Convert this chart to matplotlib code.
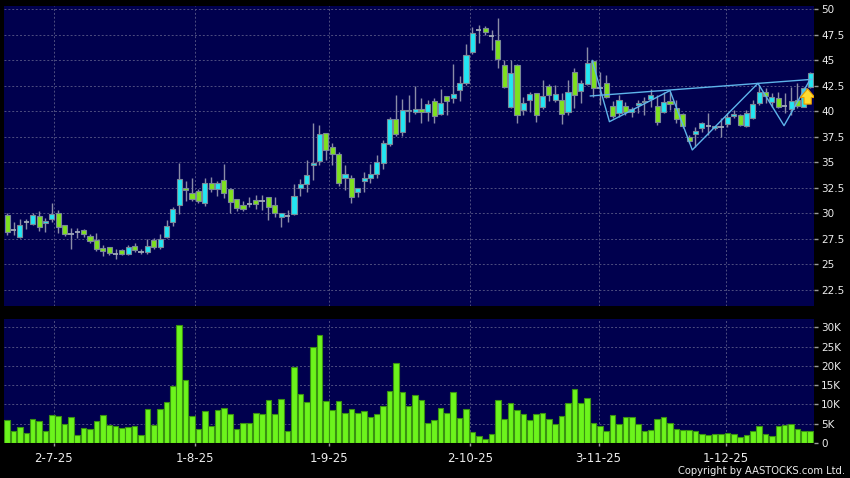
import numpy as np
import matplotlib
matplotlib.use('Agg')
import matplotlib.pyplot as plt
from matplotlib.patches import FancyArrowPatch

# dati (OHLC giornalieri e volumi in migliaia)

opens = [29.86, 28.4, 27.73, 29.17, 29.0, 29.79, 29.04, 29.5, 30.02, 28.84,
         28.03, 28.22, 28.42, 27.77, 27.41, 26.62, 26.75, 26.07, 26.39, 26.0,
         26.79, 26.23, 26.2, 27.37, 26.69, 27.73, 29.2, 30.84, 32.45, 31.98,
         32.24, 31.0, 32.96, 32.37, 33.25, 32.44, 31.39, 30.8, 30.92, 31.29,
         31.27, 31.59, 30.8, 29.63, 29.75, 29.92, 32.47, 32.86, 34.73, 35.18,
         37.86, 36.55, 35.8, 33.45, 33.45, 32.07, 33.2, 33.5, 33.84, 34.92,
         36.78, 39.23, 37.96, 40.0, 39.98, 40.21, 39.92, 41.06, 39.79, 41.48,
         41.29, 42.1, 42.83, 45.8, 47.99, 48.22, 47.38, 47.01, 44.56, 40.41,
         44.56, 40.15, 41.09, 41.78, 40.41, 42.47, 41.09, 41.13, 39.92, 43.9,
         42.01, 42.7, 44.98, 42.34, 42.76, 40.57, 39.82, 40.57, 39.92, 40.64,
         40.9, 41.19, 40.54, 39.98, 41.03, 40.38, 39.72, 37.47, 37.8, 38.42,
         38.55, 38.42, 38.45, 38.77, 39.56, 39.69, 38.58, 39.4, 40.8, 41.88,
         40.96, 41.29, 40.54, 40.21, 41.13, 40.47, 42.43]
highs = [30.0, 29.2, 29.5, 29.5, 30.0, 30.28, 29.53, 31.07, 30.35, 28.9,
         28.55, 28.55, 28.45, 27.95, 28.06, 26.9, 26.75, 26.49, 26.5, 26.9,
         27.1, 26.55, 27.47, 27.6, 27.96, 29.37, 30.67, 34.92, 33.2, 33.45,
         32.4, 33.45, 33.6, 33.2, 34.86, 32.45, 31.45, 31.2, 31.6, 31.8,
         31.8, 31.6, 31.6, 30.05, 30.35, 32.86, 33.4, 35.25, 38.84, 38.68,
         37.9, 36.9, 36.05, 34.75, 33.8, 32.5, 34.1, 34.85, 35.75, 37.2,
         39.5, 41.6, 41.2, 41.6, 42.5, 41.3, 41.13, 41.3, 42.2, 41.5,
         44.66, 43.5, 46.6, 48.3, 48.48, 48.35, 47.99, 49.13, 45.0, 45.05,
         44.7, 41.45, 41.95, 41.85, 43.1, 42.68, 42.6, 41.78, 43.1, 44.23,
         43.1, 46.29, 45.05, 43.9, 43.58, 41.03, 41.6, 40.96, 40.47, 41.13,
         41.45, 42.17, 41.62, 41.95, 41.95, 41.13, 39.82, 37.7, 38.5, 39.0,
         39.82, 38.6, 39.33, 39.82, 40.15, 39.75, 40.15, 41.13, 42.6, 42.27,
         41.78, 41.95, 41.78, 42.43, 42.76, 42.43, 43.9]
lows = [27.9, 27.9, 27.57, 28.5, 28.9, 28.29, 28.22, 29.2, 28.06, 27.8,
        26.49, 27.57, 27.67, 27.15, 26.36, 25.85, 25.9, 25.58, 25.95, 25.95,
        26.25, 26.03, 26.03, 26.55, 26.55, 27.6, 28.78, 29.95, 31.2, 31.2,
        31.0, 30.7, 32.15, 31.72, 31.5, 30.08, 30.2, 30.2, 30.65, 30.4,
        30.35, 29.37, 29.7, 28.65, 29.2, 29.9, 31.7, 32.15, 33.3, 34.8,
        35.25, 34.75, 32.73, 32.3, 31.0, 31.65, 32.15, 32.95, 33.45, 34.4,
        36.65, 37.55, 37.55, 39.0, 39.8, 38.9, 39.07, 38.9, 39.65, 39.65,
        40.8, 41.03, 42.6, 45.6, 46.68, 47.5, 46.03, 44.23, 42.3, 40.3,
        38.84, 39.66, 39.98, 39.0, 40.2, 41.03, 40.88, 38.74, 39.66, 40.38,
        40.8, 42.6, 41.45, 40.64, 41.3, 39.33, 39.5, 39.66, 39.5, 39.82,
        39.66, 40.48, 38.68, 39.82, 40.15, 38.84, 38.35, 36.88, 36.55, 38.03,
        37.7, 38.2, 37.47, 38.52, 39.33, 38.58, 38.52, 39.23, 40.64, 40.8,
        40.48, 40.31, 39.82, 39.66, 40.38, 40.47, 42.27]
closes = [28.22, 28.4, 28.84, 29.17, 29.83, 28.71, 29.27, 29.96, 28.65, 27.96,
          28.03, 28.22, 28.0, 27.34, 26.56, 26.36, 26.1, 26.07, 26.07, 26.75,
          26.46, 26.23, 26.85, 26.69, 27.47, 28.75, 30.41, 33.35, 32.35, 31.42,
          31.2, 32.96, 32.37, 32.96, 31.98, 31.1, 30.58, 30.41, 30.92, 30.93,
          31.27, 30.61, 30.08, 30.02, 29.75, 31.75, 32.86, 33.75, 34.92, 37.8,
          36.19, 35.8, 32.96, 33.84, 31.65, 32.47, 33.45, 33.84, 35.0, 36.88,
          39.23, 37.8, 40.15, 40.15, 40.21, 39.9, 40.7, 39.56, 40.8, 41.06,
          41.68, 42.8, 45.54, 47.66, 47.99, 47.76, 47.38, 45.11, 42.43, 43.74,
          39.66, 40.87, 41.72, 39.66, 41.55, 41.6, 41.68, 39.75, 41.94, 41.6,
          42.83, 44.79, 42.34, 42.34, 41.45, 39.56, 41.13, 39.92, 40.25, 40.8,
          41.03, 41.62, 39.0, 40.93, 40.7, 39.23, 38.58, 37.14, 38.09, 38.84,
          38.55, 38.58, 38.45, 39.5, 39.76, 38.71, 39.82, 40.7, 41.95, 41.52,
          41.45, 40.47, 40.54, 41.06, 40.54, 42.27, 43.74]
volume_k = [5.9, 3.0, 4.1, 2.5, 6.2, 5.6, 3.0, 7.2, 7.0, 5.0,
            6.8, 2.1, 3.8, 3.7, 5.6, 7.2, 4.7, 4.3, 3.9, 4.2,
            4.4, 2.2, 8.8, 4.7, 8.7, 10.7, 14.9, 30.7, 16.3, 6.9,
            3.7, 8.3, 4.3, 8.5, 9.2, 7.4, 3.6, 5.1, 5.3, 7.7,
            7.6, 11.2, 7.6, 11.3, 3.2, 19.7, 12.7, 10.6, 25.0, 28.1,
            10.8, 8.5, 11.0, 7.7, 8.8, 7.7, 8.3, 6.8, 7.5, 9.7,
            13.6, 20.8, 13.3, 9.6, 12.5, 11.1, 5.3, 6.0, 9.0, 7.7,
            13.2, 6.5, 8.7, 2.8, 1.7, 1.0, 2.3, 11.2, 6.3, 10.3,
            8.6, 7.5, 6.0, 7.6, 7.8, 6.2, 4.8, 7.0, 10.4, 14.0,
            10.3, 11.6, 5.3, 4.3, 3.0, 7.2, 5.0, 6.8, 6.7, 4.8,
            3.1, 3.4, 6.3, 6.8, 5.3, 3.7, 3.5, 3.4, 3.2, 2.3,
            2.2, 2.4, 2.4, 2.5, 2.3, 1.6, 2.1, 3.1, 4.3, 2.3,
            1.7, 4.5, 4.7, 5.0, 3.7, 3.2, 3.0]

date_labels = ['2-7-25', '1-8-25', '1-9-25', '2-10-25', '3-11-25', '1-12-25']
date_pos = [7.3, 29.4, 50.5, 72.6, 92.8, 112.8]

price_ticks = [22.5, 25, 27.5, 30, 32.5, 35, 37.5, 40, 42.5, 45, 47.5, 50]
price_labels = ['22.5', '25', '27.5', '30', '32.5', '35', '37.5', '40', '42.5', '45', '47.5', '50']
vol_ticks = [0, 5000, 10000, 15000, 20000, 25000, 30000]
vol_labels = ['0', '5K', '10K', '15K', '20K', '25K', '30K']

# linee di tendenza disegnate sul grafico (indice giorno, prezzo)
trend_x = [91.5, 126.3]
trend_y = [41.52, 43.15]
zigzag_x = [91.8, 94.5, 104.0, 107.5, 117.8, 121.9, 126.0]
zigzag_y = [45.0, 39.0, 42.05, 36.23, 42.76, 38.61, 43.15]
arrow_x = 125.6
arrow_y = [40.45, 42.5]

o = np.array(opens)
h = np.array(highs)
l = np.array(lows)
c = np.array(closes)
v = np.array(volume_k) * 1000
idx = np.arange(len(o))

bg = '#00004e'
grid_col = '#4e4e80'
up_col = '#22e6f2'
down_col = '#7ee01e'
text_col = '#ececec'

fig = plt.figure(figsize=(8.5, 4.78), dpi=100, facecolor='black')
ax = fig.add_axes([4/850, 1-306/478, 810/850, 300/478], facecolor=bg)
axv = fig.add_axes([4/850, 1-443/478, 810/850, 124/478], facecolor=bg, sharex=ax)

# candele
ax.vlines(idx, l, h, color='#8a8ca6', linewidth=1, zorder=2)
up = c > o + 0.02
down = c < o - 0.02
doji = ~(up | down)
ax.bar(idx[up], (c - o)[up], bottom=o[up], width=0.8, color=up_col,
       edgecolor='#7a8898', linewidth=0.8, zorder=3)
ax.bar(idx[down], (o - c)[down], bottom=c[down], width=0.8, color=down_col,
       edgecolor='#7a8898', linewidth=0.8, zorder=3)
ax.hlines(c[doji], idx[doji] - 0.42, idx[doji] + 0.42, color='#a0a8b8', linewidth=1.3, zorder=3)

ax.plot(trend_x, trend_y, color='#5eb4ea', linewidth=1, zorder=4)
ax.plot(zigzag_x, zigzag_y, color='#5eb4ea', linewidth=1, zorder=4)
arr = FancyArrowPatch((arrow_x, arrow_y[0]), (arrow_x, arrow_y[1]),
                      arrowstyle='simple,head_length=0.6,head_width=1.0,tail_width=0.5',
                      mutation_scale=10.5, fc='#ffdc30', ec='#e89a00', linewidth=0.8, zorder=5)
ax.add_patch(arr)

# volumi
axv.bar(idx, v, width=0.88, color='#6cf41c', edgecolor='#3a9212', linewidth=0.8, zorder=3)

ax.set_xlim(-0.5, 126.6)
ax.set_ylim(20.93, 50.34)
axv.set_ylim(0, 32150)

for a in (ax, axv):
    for s in a.spines.values():
        s.set_visible(False)
    a.yaxis.tick_right()
    a.grid(True, color=grid_col, linestyle=(0, (2, 2)), linewidth=0.7, zorder=0)
    a.set_axisbelow(True)
    a.tick_params(axis='y', colors='#9a9a9a', labelcolor=text_col, length=3, width=1,
                  pad=2, labelsize=7.5)

ax.set_yticks(price_ticks)
ax.set_yticklabels(price_labels)
axv.set_yticks(vol_ticks)
axv.set_yticklabels(vol_labels)

axv.set_xticks(date_pos)
axv.set_xticklabels(date_labels)
axv.tick_params(axis='x', colors='#9a9a9a', labelcolor=text_col, length=2.5, width=1,
                pad=4, labelsize=8.5)
ax.tick_params(axis='x', length=0, labelbottom=False)

fig.text(845/850, 1-471/478, 'Copyright by AASTOCKS.com Ltd.', color=text_col,
         fontsize=7.2, ha='right', va='center')

plt.savefig('out.png', dpi=100, facecolor='black')
